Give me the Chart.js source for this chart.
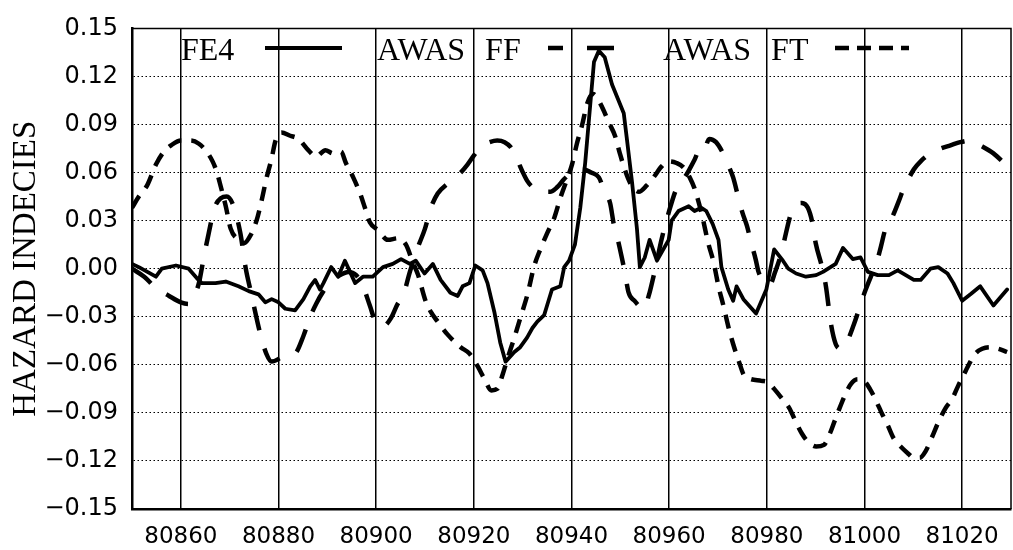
<!DOCTYPE html>
<html>
<head>
<meta charset="utf-8">
<title>Hazard indecies</title>
<script src="https://cdn.jsdelivr.net/npm/chart.js@4.4.1/dist/chart.umd.min.js"></script>
<style>
  html, body { margin: 0; padding: 0; background: #fff; }
  #wrap { width: 1013px; height: 550px; }
</style>
</head>
<body>
<div id="wrap"><canvas id="hazard"></canvas></div>
<script>
'use strict'

// axis ticks
const xTicks = [80860, 80880, 80900, 80920, 80940, 80960, 80980, 81000, 81020];
const yTicks = [-0.15, -0.12, -0.09, -0.06, -0.03, 0, 0.03, 0.06, 0.09, 0.12, 0.15];

// FE4 (solid)
const fe4X = [80850.0, 80851.4, 80854.9, 80856.1, 80859.0, 80861.6, 80863.3, 80864.3, 80867.1, 80869.2,
  80871.8, 80873.9, 80875.9, 80877.3, 80878.6, 80880.0, 80881.4, 80883.4, 80885.1, 80886.5,
  80887.5, 80888.5, 80889.2, 80890.8, 80892.2, 80893.6, 80895.7, 80897.3, 80899.3, 80901.4,
  80903.4, 80905.1, 80906.9, 80908.1, 80909.9, 80911.6, 80913.2, 80915.2, 80916.7, 80917.7,
  80919.1, 80920.3, 80921.8, 80922.8, 80924.2, 80925.4, 80926.5, 80928.3, 80929.5, 80930.9,
  80932.0, 80933.0, 80934.4, 80935.0, 80936.0, 80937.7, 80938.5, 80939.5, 80940.7, 80941.8,
  80942.8, 80943.6, 80944.6, 80945.6, 80946.8, 80948.3, 80950.7, 80951.3, 80952.4, 80953.4,
  80954.0, 80955.0, 80956.0, 80957.5, 80959.9, 80960.5, 80961.9, 80964.0, 80965.2, 80966.6,
  80967.6, 80968.9, 80970.1, 80970.7, 80972.1, 80973.1, 80973.8, 80975.2, 80977.8, 80979.9,
  80981.5, 80983.3, 80984.4, 80986.0, 80988.0, 80990.1, 80991.5, 80994.1, 80995.6, 80997.6,
  80999.2, 81000.7, 81002.7, 81005.0, 81006.8, 81010.1, 81011.5, 81013.5, 81015.1, 81017.0,
  81018.2, 81020.0, 81021.7, 81023.7, 81026.4, 81029.2];
const fe4Y = [0.003, 0.001, -0.005, 0.000, 0.002, 0.000, -0.006, -0.009, -0.009, -0.008,
  -0.011, -0.014, -0.016, -0.021, -0.019, -0.021, -0.025, -0.026, -0.019, -0.011,
  -0.007, -0.013, -0.009, 0.001, -0.005, 0.005, -0.009, -0.005, -0.005, 0.001,
  0.003, 0.006, 0.003, 0.005, -0.003, 0.003, -0.007, -0.015, -0.017, -0.011,
  -0.009, 0.002, -0.001, -0.009, -0.027, -0.046, -0.058, -0.052, -0.049, -0.043,
  -0.037, -0.033, -0.029, -0.023, -0.013, -0.011, 0.001, 0.005, 0.015, 0.038,
  0.066, 0.094, 0.129, 0.136, 0.132, 0.115, 0.097, 0.082, 0.054, 0.025,
  0.001, 0.007, 0.018, 0.005, 0.018, 0.030, 0.036, 0.039, 0.036, 0.038,
  0.036, 0.028, 0.018, 0.001, -0.013, -0.020, -0.011, -0.019, -0.028, -0.013,
  0.012, 0.005, 0.000, -0.003, -0.005, -0.004, -0.002, 0.003, 0.013, 0.006,
  0.007, -0.002, -0.004, -0.004, -0.001, -0.007, -0.007, 0.000, 0.001, -0.003,
  -0.009, -0.020, -0.016, -0.011, -0.023, -0.013];

// AWAS FF (long dashes)
const ffX = [80850.0, 80852.5, 80854.9, 80857.6, 80860.0, 80861.6, 80862.7, 80863.7, 80864.7, 80865.7,
  80866.9, 80868.2, 80869.4, 80870.8, 80872.2, 80873.3, 80874.3, 80875.3, 80876.3, 80877.5,
  80878.6, 80881.0, 80883.4, 80885.1, 80886.5, 80887.7, 80889.2, 80890.8, 80892.6, 80894.3,
  80895.9, 80897.3, 80898.7, 80900.0, 80901.4, 80903.0, 80904.4, 80905.5, 80906.9, 80908.5,
  80910.0, 80911.2, 80912.6, 80914.6, 80917.3, 80918.7, 80920.1, 80921.8, 80923.2, 80924.8,
  80926.3, 80927.5, 80928.9, 80929.9, 80930.9, 80932.0, 80934.0, 80935.6, 80937.1, 80938.5,
  80940.5, 80942.5, 80944.0, 80945.6, 80946.8, 80947.9, 80948.7, 80949.5, 80950.3, 80950.9,
  80951.7, 80952.9, 80954.8, 80955.8, 80957.0, 80958.5, 80959.9, 80961.5, 80963.6, 80965.2,
  80966.2, 80967.0, 80968.2, 80969.6, 80971.2, 80972.2, 80973.1, 80974.2, 80975.0, 80975.9,
  80976.9, 80977.7, 80978.3, 80979.4, 80980.6, 80981.7, 80983.0, 80983.9, 80985.0, 80986.0,
  80987.2, 80988.4, 80989.3, 80990.0, 80991.3, 80992.1, 80993.1, 80994.1, 80995.2, 80996.2,
  80997.8, 81000.0, 81001.3, 81002.3, 81003.3, 81004.3, 81005.8, 81007.0, 81008.0, 81009.0,
  81010.1, 81011.5, 81013.5, 81015.6, 81017.6, 81019.6, 81021.7, 81023.7, 81026.4, 81029.2];
const ffY = [0.000, -0.005, -0.012, -0.017, -0.021, -0.022, -0.017, -0.009, 0.007, 0.022,
  0.038, 0.044, 0.045, 0.039, 0.022, 0.000, -0.014, -0.028, -0.041, -0.053,
  -0.058, -0.055, -0.053, -0.042, -0.030, -0.022, -0.014, -0.008, -0.004, -0.002,
  -0.004, -0.011, -0.023, -0.034, -0.036, -0.031, -0.022, -0.017, -0.002, 0.013,
  0.025, 0.038, 0.047, 0.053, 0.060, 0.065, 0.071, 0.077, 0.079, 0.080,
  0.079, 0.076, 0.068, 0.061, 0.055, 0.051, 0.048, 0.048, 0.051, 0.056,
  0.061, 0.062, 0.060, 0.057, 0.048, 0.041, 0.027, 0.018, 0.007, -0.002,
  -0.015, -0.020, -0.025, -0.017, -0.002, 0.019, 0.035, 0.050, 0.059, 0.068,
  0.074, 0.073, 0.081, 0.079, 0.071, 0.064, 0.057, 0.044, 0.035, 0.027,
  0.015, 0.006, -0.002, -0.008, -0.010, -0.002, 0.010, 0.022, 0.035, 0.040,
  0.041, 0.038, 0.029, 0.016, 0.001, -0.011, -0.034, -0.047, -0.050, -0.047,
  -0.035, -0.015, -0.005, 0.002, 0.013, 0.025, 0.033, 0.042, 0.050, 0.056,
  0.062, 0.067, 0.072, 0.075, 0.077, 0.079, 0.080, 0.077, 0.072, 0.064];

// AWAS FT (short dashes)
const ftX = [80850.0, 80851.4, 80853.1, 80854.9, 80856.5, 80858.0, 80860.0, 80862.0, 80863.7, 80865.3,
  80866.5, 80867.3, 80868.2, 80869.2, 80870.2, 80871.8, 80873.0, 80874.3, 80875.5, 80876.5,
  80877.5, 80878.6, 80879.4, 80880.6, 80882.4, 80884.1, 80886.1, 80887.7, 80889.6, 80891.2,
  80892.8, 80893.8, 80895.3, 80896.7, 80897.7, 80898.7, 80900.4, 80902.4, 80904.4, 80906.1,
  80907.5, 80908.6, 80910.0, 80911.2, 80912.6, 80914.6, 80917.3, 80919.1, 80920.8, 80922.2,
  80923.6, 80924.8, 80925.9, 80926.9, 80928.3, 80929.7, 80930.9, 80932.4, 80933.6, 80935.0,
  80936.5, 80937.7, 80939.1, 80940.1, 80941.1, 80942.2, 80943.2, 80944.4, 80945.4, 80946.4,
  80947.7, 80948.9, 80949.9, 80950.9, 80952.1, 80953.8, 80955.4, 80956.8, 80958.5, 80959.9,
  80961.5, 80963.0, 80964.2, 80965.2, 80966.6, 80968.0, 80969.1, 80970.1, 80971.1, 80972.1,
  80973.1, 80974.4, 80975.4, 80976.8, 80978.9, 80980.3, 80981.5, 80983.1, 80984.6, 80986.0,
  80987.2, 80988.4, 80990.1, 80991.7, 80992.9, 80993.9, 80994.9, 80996.0, 80997.2, 80998.6,
  80999.9, 81001.1, 81002.3, 81003.5, 81004.8, 81006.0, 81007.4, 81008.8, 81010.1, 81011.3,
  81012.5, 81013.7, 81015.1, 81016.6, 81018.0, 81019.2, 81020.2, 81021.5, 81022.7, 81024.1,
  81025.7, 81027.4, 81029.2];
const ftY = [0.038, 0.045, 0.052, 0.065, 0.073, 0.077, 0.080, 0.080, 0.078, 0.073,
  0.067, 0.061, 0.051, 0.039, 0.025, 0.018, 0.016, 0.021, 0.030, 0.042,
  0.056, 0.069, 0.080, 0.085, 0.083, 0.081, 0.074, 0.070, 0.074, 0.072,
  0.073, 0.066, 0.057, 0.047, 0.038, 0.029, 0.024, 0.018, 0.019, 0.015,
  0.004, -0.004, -0.019, -0.027, -0.033, -0.041, -0.049, -0.053, -0.061, -0.069,
  -0.076, -0.075, -0.066, -0.056, -0.043, -0.029, -0.017, 0.002, 0.012, 0.022,
  0.032, 0.044, 0.056, 0.065, 0.078, 0.090, 0.103, 0.109, 0.106, 0.100,
  0.091, 0.083, 0.072, 0.062, 0.053, 0.048, 0.052, 0.057, 0.064, 0.067,
  0.066, 0.063, 0.057, 0.050, 0.035, 0.016, 0.004, -0.011, -0.023, -0.036,
  -0.047, -0.059, -0.067, -0.069, -0.070, -0.071, -0.075, -0.081, -0.087, -0.096,
  -0.103, -0.108, -0.111, -0.110, -0.103, -0.095, -0.087, -0.079, -0.072, -0.069,
  -0.070, -0.075, -0.082, -0.090, -0.098, -0.106, -0.111, -0.115, -0.118, -0.118,
  -0.114, -0.106, -0.096, -0.087, -0.081, -0.073, -0.067, -0.059, -0.053, -0.050,
  -0.049, -0.050, -0.052];

const ffDash = [24, 19];
const ftDash = [14, 10];

function toPoints(xs, ys) {
  return xs.map((x, i) => ({ x: x, y: ys[i] }));
}

function tickText(v) {
  if (Math.abs(v) < 1e-9) return '0.00';
  return v.toFixed(2).replace('-', '\u2212');
}

// legend drawn inside the plot: label first, line sample after it
const legendEntries = [
  { label: 'FE4', tx: 181, from: 265, to: 342, dash: [], width: 3.8 },
  { label: 'AWAS FF', tx: 377, from: 548, to: 614, dash: [15, 24, 26, 0], width: 4.5 },
  { label: 'AWAS FT', tx: 663, from: 835, to: 909, dash: [14, 8], width: 4.5 }
];

const frameAndLegend = {
  id: 'frameAndLegend',
  afterDatasetsDraw(chart) {
    const { ctx, chartArea } = chart;
    ctx.save();
    // top and right frame lines
    ctx.strokeStyle = '#000';
    ctx.lineWidth = 1.5;
    ctx.beginPath();
    ctx.moveTo(chartArea.left, chartArea.top);
    ctx.lineTo(chartArea.right, chartArea.top);
    ctx.lineTo(chartArea.right, chartArea.bottom);
    ctx.stroke();

    ctx.font = '32px "Liberation Serif"';
    ctx.fillStyle = '#000';
    ctx.textBaseline = 'alphabetic';
    if ('wordSpacing' in ctx) ctx.wordSpacing = '12px';
    legendEntries.forEach(e => {
      ctx.fillText(e.label, e.tx, 60);
      ctx.setLineDash(e.dash);
      ctx.lineWidth = e.width;
      ctx.beginPath();
      ctx.moveTo(e.from, 48);
      ctx.lineTo(e.to, 48);
      ctx.stroke();
    });
    ctx.restore();
  }
};

Chart.defaults.font.family = '"DejaVu Sans", sans-serif';
Chart.defaults.color = '#000';

new Chart(document.getElementById('hazard'), {
  type: 'line',
  data: {
    datasets: [
      {
        label: 'FE4',
        data: toPoints(fe4X, fe4Y),
        borderColor: '#000',
        borderWidth: 3.8,
        borderJoinStyle: 'round',
        borderCapStyle: 'round',
        pointRadius: 0,
        tension: 0
      },
      {
        label: 'AWAS FF',
        data: toPoints(ffX, ffY),
        borderColor: '#000',
        borderWidth: 4.5,
        borderDash: ffDash,
        pointRadius: 0,
        cubicInterpolationMode: 'monotone'
      },
      {
        label: 'AWAS FT',
        data: toPoints(ftX, ftY),
        borderColor: '#000',
        borderWidth: 4.5,
        borderDash: ftDash,
        pointRadius: 0,
        cubicInterpolationMode: 'monotone'
      }
    ]
  },
  options: {
    responsive: true,
    maintainAspectRatio: false,
    animation: false,
    layout: { padding: { top: 15, right: 2, left: 0, bottom: 0 } },
    plugins: {
      legend: { display: false },
      tooltip: { enabled: false }
    },
    scales: {
      x: {
        type: 'linear',
        min: 80850,
        max: 81030,
        afterBuildTicks: scale => { scale.ticks = xTicks.map(v => ({ value: v })); },
        afterFit: scale => { scale.height = 41; },
        ticks: {
          autoSkip: false,
          maxRotation: 0,
          padding: 14,
          font: { size: 23 },
          callback: v => String(v)
        },
        grid: { color: '#000', lineWidth: 1.5, drawTicks: false },
        border: { color: '#000', width: 2.5 }
      },
      y: {
        min: -0.15,
        max: 0.15,
        afterBuildTicks: scale => { scale.ticks = yTicks.map(v => ({ value: v })); },
        afterFit: scale => { scale.width = 132; },
        ticks: {
          padding: 14,
          font: { size: 24 },
          callback: v => tickText(v)
        },
        grid: { color: '#000', lineWidth: 1, drawTicks: false },
        border: { color: '#000', width: 2.5, dash: [1.5, 2.5] },
        title: {
          display: true,
          text: 'HAZARD INDECIES',
          font: { family: '"Liberation Serif", serif', size: 33 },
          padding: { top: 7, bottom: 0 }
        }
      }
    }
  },
  plugins: [frameAndLegend]
});
</script>
</body>
</html>
